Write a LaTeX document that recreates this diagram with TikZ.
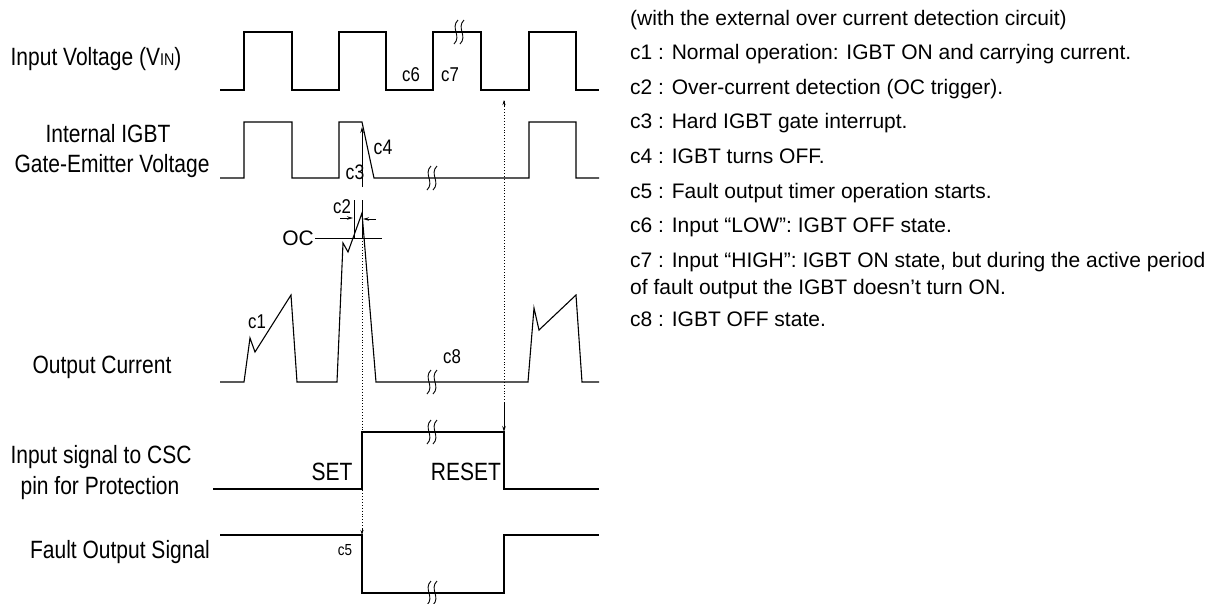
\documentclass[tikz,border=0pt]{standalone}
\usepackage{fontspec}
\setmainfont{Liberation Sans}
\newfontfamily\condfont[FakeStretch=0.84]{Liberation Sans}
\usetikzlibrary{arrows.meta}
\begin{document}
\begin{tikzpicture}[x=1pt,y=-1pt,
  wave/.style={line width=1.1pt,line join=miter},
  thin/.style={line width=0.9pt},
  dotline/.style={line width=0.9pt,dotted},
  tip/.style={-{Stealth[length=6pt,width=3.5pt]}},
  lbl/.style={font=\condfont\fontsize{25}{30}\selectfont,inner sep=0pt,anchor=base},
  clbl/.style={font=\condfont\fontsize{20}{22}\selectfont,inner sep=0pt},
  desc/.style={font=\fontsize{21}{25}\selectfont,inner sep=0pt,anchor=base west},
  brkline/.style={line width=0.9pt},
  brk/.pic={
    \draw[brkline] (1,-12) .. controls (-7,-4) and (5,4) .. (-3,12);
    \draw[brkline] (7,-12) .. controls (-1,-4) and (11,4) .. (3,12);
  }]
\useasboundingbox (0,0) rectangle (1227,603);
\fill[white] (0,0) rectangle (1227,603);

% ---- left labels
\node[lbl] (lvin) at (96,65) {Input Voltage (V{\fontsize{17}{20}\selectfont IN})};
\node[lbl] (lgate1) at (108,142) {Internal IGBT};
\node[lbl] (lgate2) at (112,172) {Gate-Emitter Voltage};
\node[lbl] (lout) at (102,373) {Output Current};
\node[lbl] (lcsc1) at (101,463) {Input signal to CSC};
\node[lbl] (lcsc2) at (100,494) {pin for Protection};
\node[lbl] (lfo) at (120,558) {Fault Output Signal};

% ---- input voltage
\draw[wave] (220,90) -| (244,32) -| (292,90) -| (339,32) -| (386,90) -| (433,32) -| (481,90) -| (529,32) -| (576,90) -- (599,90);
\pic at (457,32) {brk};
% ---- gate voltage
\draw[wave] (220,178) -| (244,122) -| (292,178) -| (339,122) -- (362,122) -- (374,178) -| (529,122) -| (576,178) -- (599,178);
\pic at (430,178) {brk};
% ---- output current
\draw[wave] (220,382) -- (244,382) -- (250,338) -- (255,352) -- (291,295) -- (297,382) -- (337,382) -- (343,243) -- (348,252) -- (362,213) -- (376,382) -- (528,382) -- (534,308) -- (539,330) -- (576,295) -- (582,382) -- (599,382);
\pic at (430,382) {brk};
% ---- CSC input
\draw[wave] (213,489) -| (362,432) -| (504,489) -- (599,489);
\pic at (430,432) {brk};
% ---- fault output
\draw[wave] (220,535) -| (362,593) -| (504,535) -- (599,535);
\pic at (430,593) {brk};

% ---- markers
\coordinate (ocl) at (315,238);
\coordinate (ocr) at (382,238);
\draw[thin] (ocl) -- (ocr);
\node[font=\fontsize{21}{24}\selectfont,inner sep=0pt] (oc) at (298,238) {OC};

\coordinate (c2at) at (354,200);
\coordinate (c2ab) at (354,238);
\coordinate (c2bt) at (362,200);
\coordinate (c2bb) at (362,238);
\draw[thin] (c2at) -- (c2ab);
\draw[thin] (c2bt) -- (c2bb);
\coordinate (c2l0) at (340,218);
\coordinate (c2l1) at (353,218);
\coordinate (c2r0) at (376,219);
\coordinate (c2r1) at (363,219);
\draw[thin,tip] (c2l0) -- (c2l1);
\draw[thin,tip] (c2r0) -- (c2r1);

\coordinate (c3b) at (362,187);
\coordinate (c3t) at (362,127);
\draw[thin,tip] (c3b) -- (c3t);

\coordinate (d1t) at (362,238);
\coordinate (d1b) at (362,535);
\draw[dotline] (d1t) -- (d1b);
\draw[thin,-{Stealth[length=5pt,width=3pt]}] (362,528) -- (d1b);

\coordinate (d2b) at (504,432);
\coordinate (d2t) at (504,100);
\coordinate (d2m) at (504,403);
\draw[dotline] (d2b) -- (d2t);
\draw[thin,-{Stealth[length=5pt,width=3pt]}] (504,107) -- (d2t);
\draw[thin,tip] (d2m) -- (d2b);

% ---- c labels
\node[clbl] (c6) at (411,75) {c6};
\node[clbl] (c7) at (450,75) {c7};
\node[clbl,font=\condfont\fontsize{21}{23}\selectfont] (c3) at (355,172) {c3};
\node[clbl,font=\condfont\fontsize{21}{23}\selectfont] (c4) at (383,147) {c4};
\node[clbl] (c2) at (342,207) {c2};
\node[clbl] (c1) at (257,322) {c1};
\node[clbl] (c8) at (452,357) {c8};
\node[clbl,font=\condfont\fontsize{16}{18}\selectfont] (c5) at (345,550) {c5};
\node[lbl] (set) at (332,480) {SET};
\node[lbl] (reset) at (466,480) {RESET};

% ---- description
\node[desc] (t0) at (630,25) {(with the external over current detection circuit)};
\node[desc] (t1) at (630,59) {c1 : Normal operation: IGBT ON and carrying current.};
\node[desc] (t2) at (630,94) {c2 : Over-current detection (OC trigger).};
\node[desc] (t3) at (630,128) {c3 : Hard IGBT gate interrupt.};
\node[desc] (t4) at (630,163) {c4 : IGBT turns OFF.};
\node[desc] (t5) at (630,198) {c5 : Fault output timer operation starts.};
\node[desc] (t6) at (630,232) {c6 : Input “LOW”: IGBT OFF state.};
\node[desc] (t7) at (630,267) {c7 : Input “HIGH”: IGBT ON state, but during the active period};
\node[desc] (t7b) at (630,294) {of fault output the IGBT doesn’t turn ON.};
\node[desc] (t8) at (630,326) {c8 : IGBT OFF state.};
\end{tikzpicture}
\end{document}
